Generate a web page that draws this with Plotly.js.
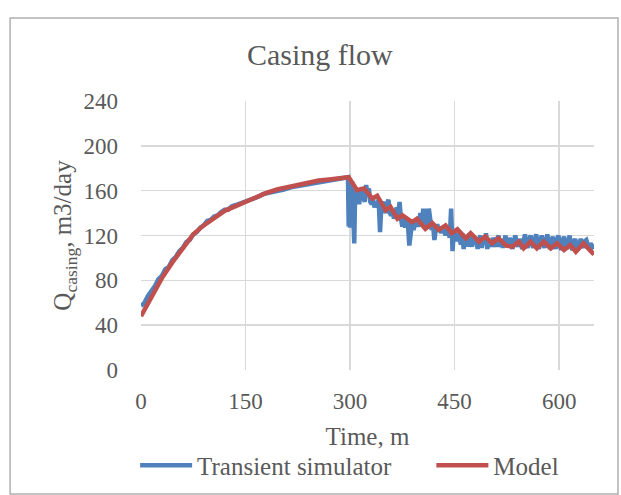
<!DOCTYPE html>
<html>
<head>
<meta charset="utf-8">
<script src="https://cdn.plot.ly/plotly-3.0.1.min.js"></script>
<style>html,body{margin:0;padding:0;background:#fff;}#chart{width:621px;height:495px;}</style>
</head>
<body>
<div id="chart"></div>
<script>
// Transient simulator (blue)
const simTime = [0,5,10,15,20,25,30,35,40,45,50,55,60,65,70,75,80,85,90,95,100,105,110,115,120,125,130,135,140,145,150,160,170,175,185,195,205,215,225,235,245,255,265,275,285,295,
297,298,299,300,301,303,305,306,307,309,311,313,315,317,319,321,323,325,327,329,331,333,335,337,339,341,343,345,347,349,351,353,355,357,359,361,363,365,367,369,371,373,375,377,379,381,383,385,387,389,391,393,395,397,399,401,403,405,407,409,411,413,415,417,419,421,423,425,427,429,431,433,435,437,439,441,443,445,447,449,451,453,455,457,459,461,463,465,467,469,471,473,475,477,479,481,483,485,487,489,491,493,495,497,499,501,503,505,507,509,511,513,515,517,519,521,523,525,527,529,531,533,535,537,539,541,543,545,547,549,551,553,555,557,559,561,563,565,567,569,571,573,575,577,579,581,583,585,587,589,591,593,595,597,599,601,603,605,607,609,611,613,615,617,619,621,623,625,627,629,631,633,635,637,639,641,643,645,647,650];
const simFlow = [57,60,66,70,75,81,84,90,92,98,101,106,109,114,116,121,123,127,129,133,134,137,138,141,143,143,146,147,148,150,150,152,155,157,158,159,161,163,164,165,166,167,168,169,170,172,
172,128,170,127,160,168,140,113,150,160,155,148,158,163,155,150,165,158,162,150,148,152,145,150,147,152,123,148,150,145,140,148,152,140,138,142,135,140,145,138,150,135,128,137,127,135,130,111,128,132,125,130,135,128,132,140,128,144,130,144,128,144,130,125,130,116,125,130,125,128,122,127,125,120,128,122,118,144,106,125,120,115,122,117,112,122,108,120,118,110,122,116,110,120,112,118,108,116,120,109,118,112,122,108,116,113,110,118,115,110,117,120,110,114,109,116,120,112,110,118,112,108,115,120,114,110,117,113,108,115,121,112,109,116,120,113,109,116,121,114,108,115,120,113,109,115,121,113,108,115,119,113,108,116,120,112,107,115,119,113,108,114,120,111,107,114,117,110,107,113,117,112,109,115,116,112,109,113,111,108];

// Model (red)
const modelTime = [0,15,30,45,60,75,90,105,120,135,150,165,180,195,210,225,240,255,270,285,298,
310,320,332,339,351,358,368,375,389,396,408,418,427,437,446,454,466,473,485,494,504,513,524,533,542,549,559,568,578,588,597,607,616,624,635,650];
const modelFlow = [48,66,82,96,109,121,129,136,142,146,150,155,158,161,163,165.5,167.5,169,170,171,172,
160.5,162,153,155.5,142.5,145.5,135,138,132,135,126,131,125,129,122,125.5,117.5,122,114.5,119,113,117.5,111,110,114.5,108.5,114.5,108.5,114.5,108.5,113,107,111.5,105.5,113,103];

const xTicks = [0,150,300,450,600];
const yTicks = [0,40,80,120,160,200,240];

const FONT = "'Liberation Serif', 'DejaVu Serif', serif";
const GRAY = '#595959';

const traces = [
  {x: simTime, y: simFlow, type: 'scatter', mode: 'lines', name: 'Transient simulator',
   line: {color: '#4F81BD', width: 4.5}, legend: 'legend'},
  {x: modelTime, y: modelFlow, type: 'scatter', mode: 'lines', name: 'Model',
   line: {color: '#C0504D', width: 4.5}, legend: 'legend2'}
];

const legendFont = {family: FONT, size: 25, color: GRAY};

const layout = {
  width: 621, height: 495,
  margin: {l: 141, r: 27, t: 101, b: 125, autoexpand: false},
  paper_bgcolor: '#fff', plot_bgcolor: '#fff',
  font: {family: FONT, color: GRAY, size: 22},
  title: {text: 'Casing flow', font: {family: FONT, size: 30, color: GRAY},
          x: 0.515, xanchor: 'center', y: 0.89, yanchor: 'middle'},
  xaxis: {range: [0, 650], tickvals: xTicks, ticktext: xTicks.map(String),
          showgrid: true, gridcolor: '#D9D9D9', gridwidth: 1.5, zeroline: false,
          showline: false, ticks: '', ticklabelstandoff: 15, automargin: false,
          tickfont: {family: FONT, size: 23, color: GRAY},
          title: {text: 'Time, m', font: {family: FONT, size: 25, color: GRAY}, standoff: 14}},
  yaxis: {range: [0, 240], tickvals: yTicks, ticktext: yTicks.map(String),
          showgrid: true, gridcolor: '#D9D9D9', gridwidth: 1.5, zeroline: false,
          showline: false, ticks: '', ticklabelstandoff: 22, automargin: false,
          tickfont: {family: FONT, size: 23, color: GRAY},
          title: {text: 'Q<sub>casing</sub>, m3/day', font: {family: FONT, size: 25, color: GRAY}, standoff: 4}},
  showlegend: true,
  legend: {orientation: 'h', x: -0.013, xanchor: 'left', y: -0.355, yanchor: 'middle',
           font: legendFont, itemwidth: 52, bgcolor: 'rgba(0,0,0,0)'},
  legend2: {orientation: 'h', x: 0.641, xanchor: 'left', y: -0.355, yanchor: 'middle',
           font: legendFont, itemwidth: 52, bgcolor: 'rgba(0,0,0,0)'},
  shapes: [{type: 'rect', xref: 'paper', yref: 'paper', x0: -0.289, x1: 1.053, y0: -0.461, y1: 1.3086,
            line: {color: '#B0B0B0', width: 1.5}, fillcolor: 'rgba(0,0,0,0)', layer: 'below'}]
};

Plotly.newPlot('chart', traces, layout, {displayModeBar: false, staticPlot: true});
</script>
</body>
</html>
